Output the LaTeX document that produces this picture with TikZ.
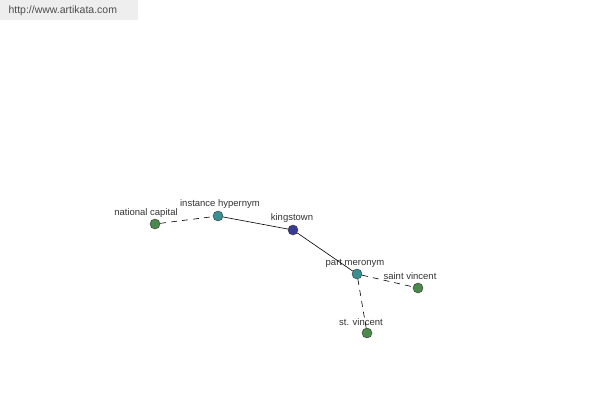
\documentclass[tikz,border=0pt]{standalone}
\usepackage{fontspec}
\setmainfont{Liberation Sans}
\definecolor{leafgreen}{RGB}{74,138,74}
\definecolor{linkteal}{RGB}{58,144,144}
\definecolor{rootblue}{RGB}{58,58,150}
\definecolor{bannergray}{RGB}{238,238,238}
\begin{document}
\begin{tikzpicture}[x=1pt, y=-1pt,
  every node/.style={font=\fontsize{9.5}{11}\selectfont, text=black!80},
  dot/.style={circle, draw=black!80, thin, minimum size=10pt, inner sep=0pt},
  wordlink/.style={draw=black, line width=0.6pt},
  semlink/.style={draw=black, line width=0.6pt, dash pattern=on 6pt off 5pt}]
  \useasboundingbox (0,0) rectangle (600,400);

  % banner
  \fill[bannergray] (0,0) rectangle (138,20);
  \node[anchor=west, font=\fontsize{10.5}{12}\selectfont, text=black!70] (site) at (5,11) {http://www.artikata.com};

  % nodes
  \node[dot, fill=leafgreen] (natcap) at (155,224) {};
  \node[dot, fill=linkteal] (insthyp) at (218,216) {};
  \node[dot, fill=rootblue] (kings) at (293,230) {};
  \node[dot, fill=linkteal] (partmer) at (357,274) {};
  \node[dot, fill=leafgreen] (saintv) at (418,288) {};
  \node[dot, fill=leafgreen] (stv) at (367,333) {};

  % labels
  \node (natcaplbl) at (146,213) {national capital};
  \node (insthyplbl) at (220,204) {instance hypernym};
  \node (kingslbl) at (292,218) {kingstown};
  \node (partmerlbl) at (355,263) {part meronym};
  \node (saintvlbl) at (410,276) {saint vincent};
  \node (stvlbl) at (361,322) {st. vincent};

  % links
  \draw[semlink] (natcap) -- (insthyp);
  \draw[wordlink] (insthyp) -- (kings);
  \draw[wordlink] (kings) -- (partmer);
  \draw[semlink] (partmer) -- (saintv);
  \draw[semlink] (partmer) -- (stv);
\end{tikzpicture}
\end{document}
